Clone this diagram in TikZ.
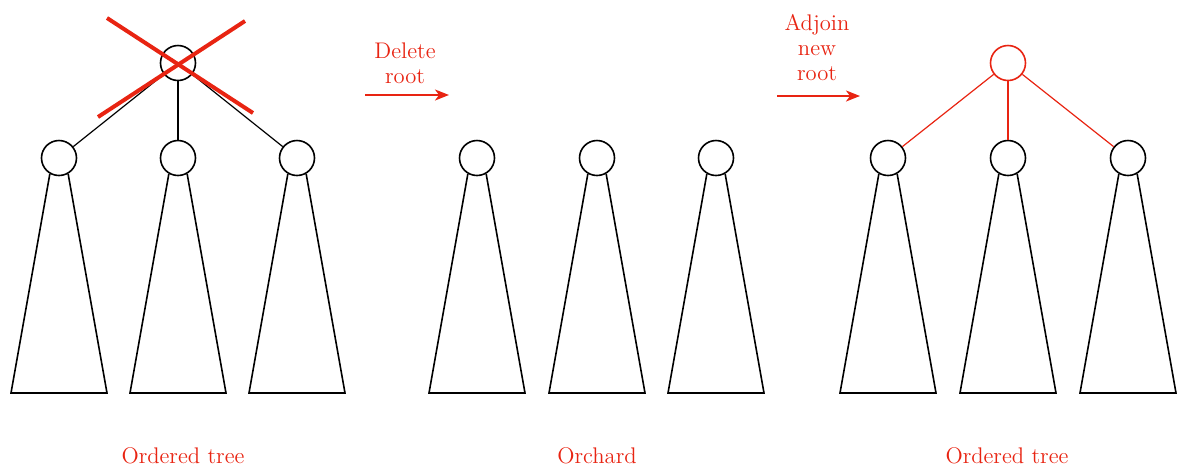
\documentclass[tikz,border=0pt]{standalone}
\usepackage{tikz,xcolor}
\usetikzlibrary{arrows.meta}
\definecolor{markred}{RGB}{232,36,18}

\begin{document}
\begin{tikzpicture}[x=0.5pt,y=-0.5pt,
    knot/.style={circle, draw, line width=0.8pt, minimum size=17.5pt, inner sep=0pt},
    twig/.style={line width=0.6pt},
    redtext/.style={text=markred, font=\fontsize{11.3}{12.5}\selectfont, align=center},
    stepline/.style={markred, line width=0.9pt, -{Stealth[length=7pt, width=5.5pt, inset=2pt]}}]

        \useasboundingbox (0,0) rectangle (1178,468);

        % Subtrees
        \foreach \t/\x in {a/59, b/178, c/297, d/477, e/597, f/716, g/888, h/1008, i/1128} {
            \node[knot] (\t) at (\x,158) {};
            \coordinate (\t L) at (\x-48,393);
            \coordinate (\t R) at (\x+48,393);
            \draw[line width=0.8pt] (\t.-120) -- (\t L) -- (\t R) -- (\t.-60);
        }

        % Left ordered tree with its root crossed out
        \node[knot] (oldroot) at (178,63) {};
        \draw[twig] (oldroot) -- (a);
        \draw[twig] (oldroot) -- (b);
        \draw[twig] (oldroot) -- (c);
        \coordinate (xa) at (107,18);
        \coordinate (xb) at (253,113);
        \coordinate (xc) at (245,21);
        \coordinate (xd) at (98,117);
        \draw[markred, line width=2pt] (xa) -- (xb);
        \draw[markred, line width=2pt] (xc) -- (xd);

        % Annotation for deleting the root
        \node[redtext] (deltext) at (405,63) {Delete\\root};
        \coordinate (del1) at (365,95);
        \coordinate (del2) at (449,95);
        \draw[stepline] (del1) -- (del2);

        % Annotation for adjoining a new root
        \node[redtext] (adjtext) at (817,48) {Adjoin\\new\\root};
        \coordinate (adj1) at (777,96);
        \coordinate (adj2) at (860,96);
        \draw[stepline] (adj1) -- (adj2);

        % Right ordered tree with the new root
        \node[knot, draw=markred] (newroot) at (1008,63) {};
        \draw[twig, markred] (newroot) -- (g);
        \draw[twig, markred] (newroot) -- (h);
        \draw[twig, markred] (newroot) -- (i);

        % Captions
        \node[redtext] (cap1) at (183,456) {Ordered tree};
        \node[redtext] (cap2) at (597,456) {Orchard};
        \node[redtext] (cap3) at (1007,456) {Ordered tree};

    \end{tikzpicture}
\end{document}
